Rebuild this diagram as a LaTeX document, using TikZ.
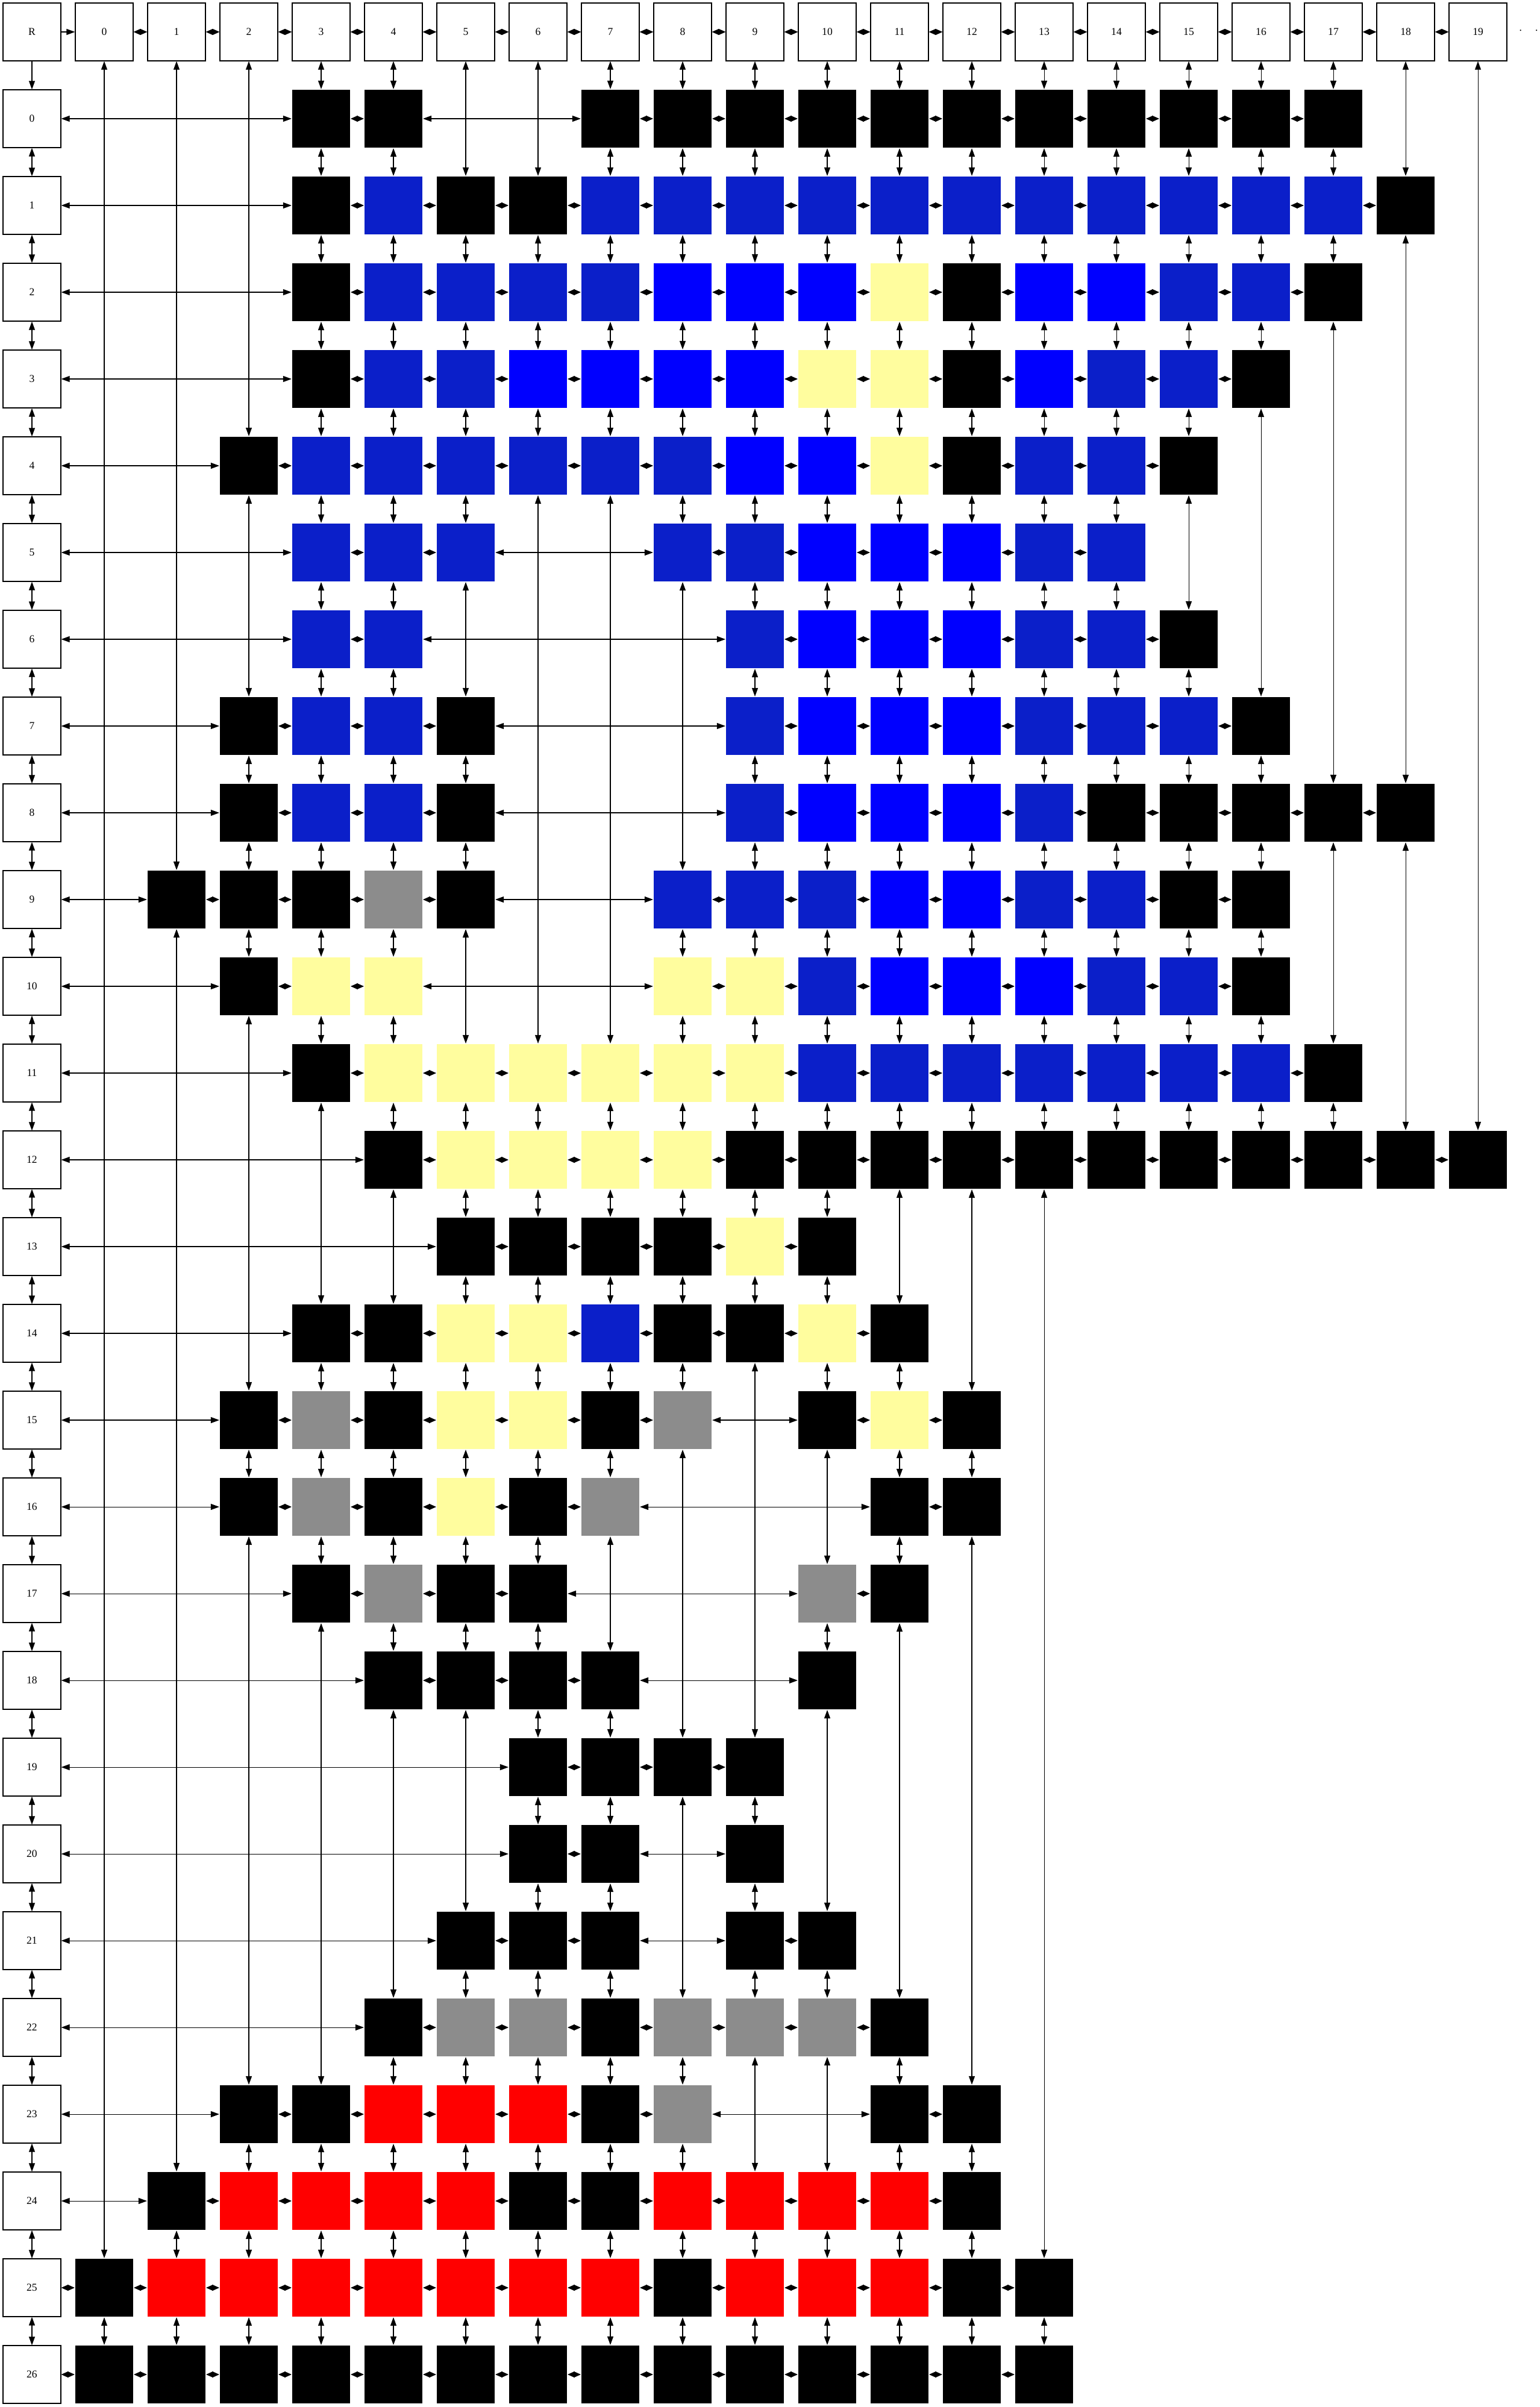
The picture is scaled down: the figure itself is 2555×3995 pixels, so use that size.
\documentclass[tikz,border=0pt]{standalone}
\usepackage{fontspec}
\setmainfont{Liberation Serif}
\usepackage{xcolor}
\usepackage{tikz}
\usetikzlibrary{arrows.meta}
\definecolor{bk}{HTML}{000000}
\definecolor{db}{HTML}{0B1FC9}
\definecolor{bb}{HTML}{0000FF}
\definecolor{yl}{HTML}{FFFD9E}
\definecolor{gy}{HTML}{8C8C8C}
\definecolor{rd}{HTML}{FF0000}

\begin{document}
\begin{tikzpicture}[
    x=0.1mm, y=-0.1mm,
    font=\fontsize{5}{6}\selectfont,
    headbox/.style={draw=black, line width=0.35pt, fill=white,
        minimum size=9.6mm, inner sep=0pt},
    cell/.style={fill=#1, minimum size=9.67mm, inner sep=0pt},
    link/.style={{Triangle[length=1.4mm,width=1mm]}-{Triangle[length=1.4mm,width=1mm]},
        line width=0.3pt},
    hop/.style={{Triangle[length=1.15mm,width=1mm]}-{Triangle[length=1.15mm,width=1mm]},
        line width=0.3pt},
    fwd/.style={-{Triangle[length=1.4mm,width=1mm]}, line width=0.3pt},
  ]
  \useasboundingbox (0,0) rectangle (2555,3995);
  % root, column heads and row heads
  \node[headbox] (root) at (53,53) {R};
  \foreach \ci in {0,...,19} {
    \node[headbox] (col\ci) at ({173+120*\ci},53) {\ci};
    \expandafter\xdef\csname up\ci\endcsname{col\ci}
  }
  \node (more) at (2537,51) {.\hspace{2.2mm}.};
  \draw[fwd] (root) -- (col0);
  \foreach \ci [evaluate=\ci as \cp using int(\ci-1)] in {1,...,19}
    \draw[hop] (col\cp) -- (col\ci);
  \foreach \ri in {0,...,26}
    \node[headbox] (row\ri) at (53,{197+144*\ri}) {\ri};
  \draw[fwd] (root) -- (row0);
  \foreach \ri [evaluate=\ri as \rp using int(\ri-1)] in {1,...,26}
    \draw[link] (row\rp) -- (row\ri);
  % cells, row by row: column/colour
  \foreach \ri/\cells in {
      0/{3/bk,4/bk,7/bk,8/bk,9/bk,10/bk,11/bk,12/bk,13/bk,14/bk,15/bk,16/bk,17/bk},
      1/{3/bk,4/db,5/bk,6/bk,7/db,8/db,9/db,10/db,11/db,12/db,13/db,14/db,15/db,16/db,17/db,18/bk},
      2/{3/bk,4/db,5/db,6/db,7/db,8/bb,9/bb,10/bb,11/yl,12/bk,13/bb,14/bb,15/db,16/db,17/bk},
      3/{3/bk,4/db,5/db,6/bb,7/bb,8/bb,9/bb,10/yl,11/yl,12/bk,13/bb,14/db,15/db,16/bk},
      4/{2/bk,3/db,4/db,5/db,6/db,7/db,8/db,9/bb,10/bb,11/yl,12/bk,13/db,14/db,15/bk},
      5/{3/db,4/db,5/db,8/db,9/db,10/bb,11/bb,12/bb,13/db,14/db},
      6/{3/db,4/db,9/db,10/bb,11/bb,12/bb,13/db,14/db,15/bk},
      7/{2/bk,3/db,4/db,5/bk,9/db,10/bb,11/bb,12/bb,13/db,14/db,15/db,16/bk},
      8/{2/bk,3/db,4/db,5/bk,9/db,10/bb,11/bb,12/bb,13/db,14/bk,15/bk,16/bk,17/bk,18/bk},
      9/{1/bk,2/bk,3/bk,4/gy,5/bk,8/db,9/db,10/db,11/bb,12/bb,13/db,14/db,15/bk,16/bk},
      10/{2/bk,3/yl,4/yl,8/yl,9/yl,10/db,11/bb,12/bb,13/bb,14/db,15/db,16/bk},
      11/{3/bk,4/yl,5/yl,6/yl,7/yl,8/yl,9/yl,10/db,11/db,12/db,13/db,14/db,15/db,16/db,17/bk},
      12/{4/bk,5/yl,6/yl,7/yl,8/yl,9/bk,10/bk,11/bk,12/bk,13/bk,14/bk,15/bk,16/bk,17/bk,18/bk,19/bk},
      13/{5/bk,6/bk,7/bk,8/bk,9/yl,10/bk},
      14/{3/bk,4/bk,5/yl,6/yl,7/db,8/bk,9/bk,10/yl,11/bk},
      15/{2/bk,3/gy,4/bk,5/yl,6/yl,7/bk,8/gy,10/bk,11/yl,12/bk},
      16/{2/bk,3/gy,4/bk,5/yl,6/bk,7/gy,11/bk,12/bk},
      17/{3/bk,4/gy,5/bk,6/bk,10/gy,11/bk},
      18/{4/bk,5/bk,6/bk,7/bk,10/bk},
      19/{6/bk,7/bk,8/bk,9/bk},
      20/{6/bk,7/bk,9/bk},
      21/{5/bk,6/bk,7/bk,9/bk,10/bk},
      22/{4/bk,5/gy,6/gy,7/bk,8/gy,9/gy,10/gy,11/bk},
      23/{2/bk,3/bk,4/rd,5/rd,6/rd,7/bk,8/gy,11/bk,12/bk},
      24/{1/bk,2/rd,3/rd,4/rd,5/rd,6/bk,7/bk,8/rd,9/rd,10/rd,11/rd,12/bk},
      25/{0/bk,1/rd,2/rd,3/rd,4/rd,5/rd,6/rd,7/rd,8/bk,9/rd,10/rd,11/rd,12/bk,13/bk},
      26/{0/bk,1/bk,2/bk,3/bk,4/bk,5/bk,6/bk,7/bk,8/bk,9/bk,10/bk,11/bk,12/bk,13/bk}} {
    \xdef\lft{row\ri}
    \xdef\lc{-1}
    \foreach \ci/\fc in \cells {
      \node[cell=\fc] (r\ri c\ci) at ({173+120*\ci},{197+144*\ri}) {};
      \ifnum\ci=\numexpr\lc+1\relax
        \draw[hop] (\lft) -- (r\ri c\ci);
      \else
        \draw[link] (\lft) -- (r\ri c\ci);
      \fi
      \edef\abv{\csname up\ci\endcsname}
      \draw[link] (\abv) -- (r\ri c\ci);
      \xdef\lft{r\ri c\ci}
      \xdef\lc{\ci}
      \expandafter\xdef\csname up\ci\endcsname{r\ri c\ci}
    }
  }
\end{tikzpicture}
\end{document}
